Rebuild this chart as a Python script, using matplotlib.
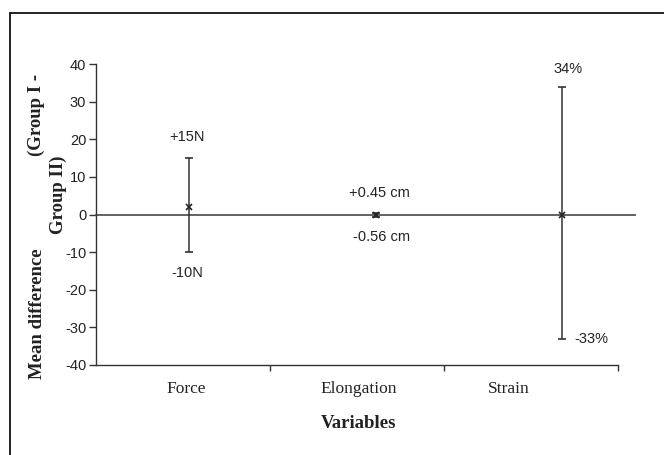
import matplotlib
matplotlib.use("Agg")
import matplotlib.pyplot as plt
from matplotlib.patches import Rectangle

categories = ["Force", "Elongation", "Strain"]
means = [2.0, -0.05, 0.0]
upper = [15.0, 0.45, 34.0]
lower = [-10.0, -0.56, -33.0]
upper_labels = ["+15N", "+0.45 cm", "34%"]
lower_labels = ["-10N", "-0.56 cm", "-33%"]
yticks = [-40, -30, -20, -10, 0, 10, 20, 30, 40]

# positions (layout)
xpos = [0.535, 1.61, 2.68]
label_x = [0.52, 1.51, 2.37]

W, H = 664, 455
fig = plt.figure(figsize=(W / 100, H / 100), dpi=100)
fig.patches.append(Rectangle((10 / W, -0.1), 1.2, (H - 13) / H + 0.1,
                             transform=fig.transFigure, fill=False,
                             edgecolor="#111111", linewidth=1.3))

ax = fig.add_axes([96 / W, 1 - 365 / H, (618 - 96) / W, (365 - 64) / H])
ax.set_xlim(0, 3)
ax.set_ylim(-40, 40)
for s in ["top", "right"]:
    ax.spines[s].set_visible(False)
for s in ["left", "bottom"]:
    ax.spines[s].set_color("#333333")
    ax.spines[s].set_linewidth(1.0)

ax.set_yticks(yticks)
ax.set_yticklabels([str(v) for v in yticks], fontsize=10.5, family="Liberation Sans", color="#222222")
ax.tick_params(axis="y", direction="out", length=5, width=1, color="#333333", pad=2)
ax.set_xticks([1, 2, 3])
ax.set_xticklabels([])
ax.tick_params(axis="x", direction="out", length=4, width=1, color="#333333")

# zero line
ax.plot([0, 3.1], [0, 0], color="#555555", linewidth=1.3, clip_on=False, zorder=2)

# error bars
for i in range(3):
    ax.errorbar([xpos[i]], [means[i]],
                yerr=[[means[i] - lower[i]], [upper[i] - means[i]]],
                fmt="x", color="#222222", ecolor="#333333", elinewidth=1.1,
                capsize=3, capthick=1.1, markersize=4, markeredgewidth=1.2, zorder=3)

# annotations
sans = "Liberation Sans"
fs = 10.5
ax.text(xpos[0] - 0.01, upper[0] + 5.5, upper_labels[0], ha="center", va="center", fontsize=fs, family=sans, color="#222222")
ax.text(xpos[0] - 0.01, lower[0] - 5.5, lower_labels[0], ha="center", va="center", fontsize=fs, family=sans, color="#222222")
ax.text(1.63, 5.6, upper_labels[1], ha="center", va="center", fontsize=fs, family=sans, color="#222222")
ax.text(1.64, -6.0, lower_labels[1], ha="center", va="center", fontsize=fs, family=sans, color="#222222")
ax.text(xpos[2] + 0.03, upper[2] + 4.7, upper_labels[2], ha="center", va="center", fontsize=fs, family=sans, color="#222222")
ax.text(xpos[2] + 0.07, lower[2], lower_labels[2], ha="left", va="center", fontsize=fs, family=sans, color="#222222")

# category labels
serif = "Liberation Serif"
for lx, lab in zip(label_x, categories):
    ax.text(lx, -46.5, lab, ha="center", va="center", fontsize=12.5, family=serif, color="#222222", clip_on=False)

fig.text(359 / W, 1 - 424 / H, "Variables", ha="center", va="center", fontsize=13.5,
         family=serif, fontweight="bold", color="#222222")

# y label pieces
fig.text(37 / W, 1 - 314 / H, "Mean difference", rotation=90, ha="center", va="center",
         fontsize=13.5, family=serif, fontweight="bold", color="#222222")
fig.text(36 / W, 1 - 115 / H, "(Group I -", rotation=90, ha="center", va="center",
         fontsize=13.5, family=serif, fontweight="bold", color="#222222")
fig.text(58 / W, 1 - 195 / H, "Group II)", rotation=90, ha="center", va="center",
         fontsize=13.5, family=serif, fontweight="bold", color="#222222")

fig.savefig("out.png", dpi=100)
